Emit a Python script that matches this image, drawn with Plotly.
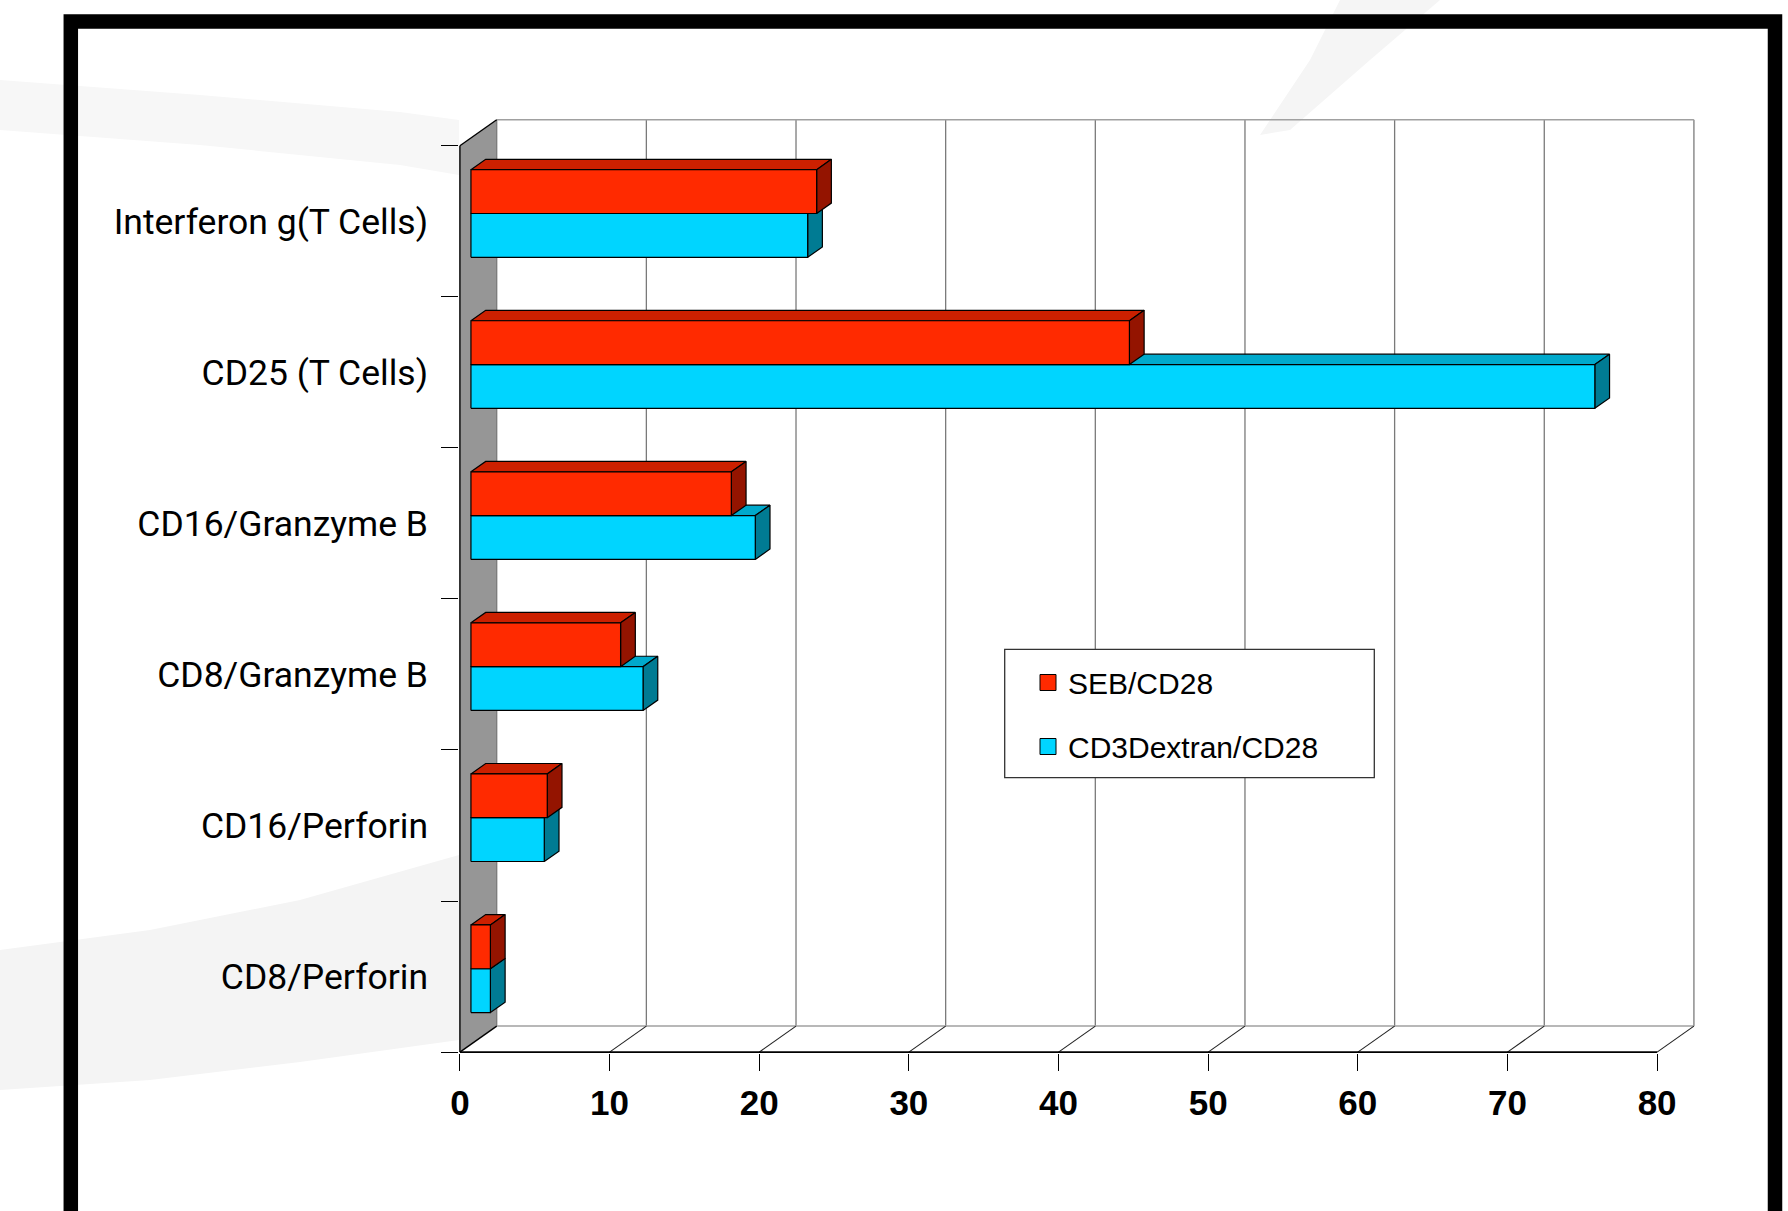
import plotly.graph_objects as go

# ---- data -------------------------------------------------------------
categories = ["CD8/Perforin", "CD16/Perforin", "CD8/Granzyme B",
              "CD16/Granzyme B", "CD25 (T Cells)", "Interferon g(T Cells)"]
seb_cd28 = [1.3, 5.1, 10.0, 17.4, 44.0, 23.1]
cd3dextran_cd28 = [1.3, 4.9, 11.5, 19.0, 75.1, 22.5]
series_names = ["SEB/CD28", "CD3Dextran/CD28"]
x_ticks = [0, 10, 20, 30, 40, 50, 60, 70, 80]

# ---- pseudo-3D geometry (axis units) ------------------------------------
DEPTH_X = 2.46      # oblique depth shift along the value axis
DEPTH_Y = 0.172     # oblique depth shift along the category axis
BAR_Z0, BAR_Z1 = 0.30, 0.70
BAR_H = 0.29
N = len(categories)
X_MAX = x_ticks[-1]

# colours: front, top, side
RED = ("#ff2a00", "#cc2000", "#941400")
CYAN = ("#00d5ff", "#00a9cc", "#007b93")

# page / plot area in pixels
W, H = 1788, 1211
ML, MR, MT, MB = 459, 86, 108, 158
PW, PH = W - ML - MR, H - MT - MB


def proj(v, c, z):
    return v + z * DEPTH_X, c + z * DEPTH_Y


def px_x(p):
    return (p - ML) / PW


def px_y(p):
    return (H - MB - p) / PH


def poly_path(pts_list):
    xs, ys = [], []
    for pts in pts_list:
        for v, c, z in pts + [pts[0]]:
            x, y = proj(v, c, z)
            xs.append(x)
            ys.append(y)
        xs.append(None)
        ys.append(None)
    return xs, ys


def seg_path(segs):
    xs, ys = [], []
    for a, b in segs:
        for p in (a, b):
            x, y = proj(*p)
            xs.append(x)
            ys.append(y)
        xs.append(None)
        ys.append(None)
    return xs, ys


fig = go.Figure()


def add_fill(pts_list, color, lw=1.2, lc="black"):
    xs, ys = poly_path(pts_list)
    fig.add_trace(go.Scatter(x=xs, y=ys, mode="lines", fill="toself",
                             fillcolor=color,
                             line=dict(color=lc, width=lw),
                             showlegend=False, hoverinfo="skip"))


def add_lines(segs, color, width):
    xs, ys = seg_path(segs)
    fig.add_trace(go.Scatter(x=xs, y=ys, mode="lines",
                             line=dict(color=color, width=width),
                             showlegend=False, hoverinfo="skip"))


# side wall
add_fill([[(0, 0, 0), (0, N, 0), (0, N, 1), (0, 0, 1)]], "#969696", lw=0,
         lc="rgba(0,0,0,0)")

# back wall gridlines and outline
add_lines([((t, 0, 1), (t, N, 1)) for t in x_ticks], "#7a7a7a", 1.3)
add_lines([((0, N, 1), (X_MAX, N, 1))], "#a0a0a0", 1.5)
add_lines([((0, 0, 1), (X_MAX, 0, 1))], "#a0a0a0", 1.5)

# floor diagonals
add_lines([((t, 0, 0), (t, 0, 1)) for t in x_ticks[1:]], "#222222", 1.1)

# wall edges and front axis lines
add_lines([((0, 0, 0), (0, N, 0)), ((0, N, 0), (0, N, 1)),
           ((0, 0, 0), (0, 0, 1))], "black", 1.4)
add_lines([((0, 0, 0), (X_MAX, 0, 0))], "black", 1.6)


def bar_faces(values, lower):
    front, top, side = [], [], []
    for i, v in enumerate(values):
        c = i + 0.5
        a, b = (c - BAR_H, c) if lower else (c, c + BAR_H)
        front.append([(0, a, BAR_Z0), (v, a, BAR_Z0), (v, b, BAR_Z0), (0, b, BAR_Z0)])
        top.append([(0, b, BAR_Z0), (v, b, BAR_Z0), (v, b, BAR_Z1), (0, b, BAR_Z1)])
        side.append([(v, a, BAR_Z0), (v, a, BAR_Z1), (v, b, BAR_Z1), (v, b, BAR_Z0)])
    return front, top, side


# lower (cyan) bars first, upper (red) bars on top
for values, cols, lower in ((cd3dextran_cd28, CYAN, True), (seb_cd28, RED, False)):
    front, top, side = bar_faces(values, lower)
    add_fill(top, cols[1])
    add_fill(side, cols[2])
    add_fill(front, cols[0])

# legend entries
for name, cols in zip(series_names, (RED, CYAN)):
    fig.add_trace(go.Scatter(x=[None], y=[None], mode="markers", name=name,
                             legendgroup=name,
                             marker=dict(symbol="square", size=20, color=cols[0],
                                         line=dict(color="black", width=1))))

# faint background swooshes
def px_path(points):
    return "M " + " L ".join(f"{px_x(x):.5f},{px_y(y):.5f}" for x, y in points) + " Z"


shapes = [
    dict(type="path", xref="paper", yref="paper", layer="below",
         path=px_path([(0, 950), (150, 930), (300, 900), (459, 855),
                       (459, 1040), (300, 1062), (150, 1080), (0, 1090)]),
         fillcolor="#f4f4f4", line=dict(width=0)),
    dict(type="path", xref="paper", yref="paper", layer="below",
         path=px_path([(0, 80), (200, 95), (400, 112), (459, 120),
                       (459, 175), (400, 165), (200, 145), (0, 130)]),
         fillcolor="#f7f7f7", line=dict(width=0)),
    dict(type="path", xref="paper", yref="paper", layer="below",
         path=px_path([(1340, 0), (1440, 0), (1370, 60), (1290, 130),
                       (1260, 135), (1310, 60)]),
         fillcolor="#f5f5f5", line=dict(width=0)),
    # black frame
    dict(type="rect", xref="paper", yref="paper", layer="above",
         x0=px_x(70.8), x1=px_x(1775), y0=px_y(21.4), y1=px_y(1260),
         line=dict(color="black", width=14.5), fillcolor="rgba(0,0,0,0)"),
    # legend box
    dict(type="rect", xref="paper", yref="paper", layer="above",
         x0=px_x(1004.7), x1=px_x(1374.3), y0=px_y(649.3), y1=px_y(777.7),
         line=dict(color="#333333", width=1.3), fillcolor="white"),
]

fig.update_layout(
    template="none",
    width=W, height=H,
    margin=dict(l=ML, r=MR, t=MT, b=MB, pad=0),
    paper_bgcolor="white",
    plot_bgcolor="rgba(0,0,0,0)",
    shapes=shapes,
    showlegend=True,
    legend=dict(x=px_x(1028), y=px_y(656.5), xanchor="left", yanchor="top",
                bgcolor="rgba(0,0,0,0)", borderwidth=0,
                traceorder="grouped", tracegroupgap=22,
                font=dict(family="Liberation Sans, Arial, sans-serif",
                          size=30, color="black")),
    xaxis=dict(range=[-0.06, 83.0], showgrid=False, zeroline=False,
               showline=False, automargin=False,
               tickmode="array", tickvals=x_ticks,
               ticktext=[str(t) for t in x_ticks],
               ticks="outside", ticklen=17, tickwidth=1.3, tickcolor="black",
               ticklabelstandoff=2,
               tickfont=dict(family="Liberation Sans, Arial, sans-serif",
                             size=35, color="black", weight="bold")),
    yaxis=dict(range=[-0.006, 6.25], showgrid=False, zeroline=False,
               showline=False, automargin=False,
               tickmode="array", tickvals=[i + 0.5 for i in range(N)],
               ticktext=categories, ticks="",
               ticklabelstandoff=30,
               tickfont=dict(family="Roboto, Liberation Sans, sans-serif",
                             size=35.5, color="black"),
               minor=dict(tickmode="array", tickvals=list(range(N + 1)),
                          ticks="outside", ticklen=17, tickwidth=1.3,
                          tickcolor="black", showgrid=False)),
)

fig.write_html("out.html")
